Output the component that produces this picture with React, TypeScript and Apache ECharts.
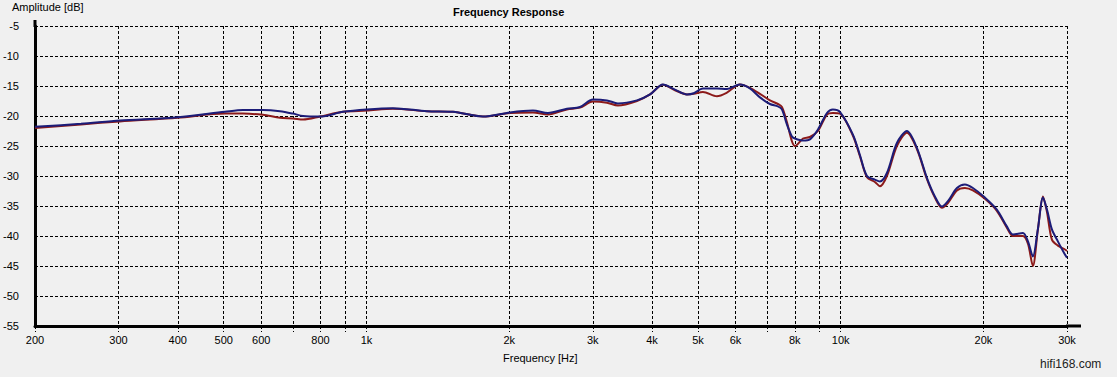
import React, { useEffect, useRef } from "react";
import * as echarts from "echarts";

const freqs = [200, 250, 302, 400, 503, 549, 605, 657, 700, 735, 798, 892, 1002, 1137, 1341, 1522, 1760, 2007, 2244, 2413, 2646, 2820, 3002, 3214, 3390, 3718, 3962, 4218, 4472, 4740, 4900, 5122, 5482, 5754, 6130, 6434, 6756, 7092, 7372, 7516, 7700, 7890, 8008, 8326, 8612, 8954, 9354, 9626, 9960, 10610, 10976, 11358, 11804, 12096, 12514, 13136, 13792, 14474, 15194, 15796, 16342, 16828, 17580, 18274, 18998, 20140, 21340, 22400, 23080, 24220, 24820, 25420, 26040, 26700, 27220, 27880, 28700, 29700, 30000];

const blueDb = [-21.8, -21.3, -20.75, -20.2, -19.3, -19.0, -19.0, -19.2, -19.6, -20.0, -20.1, -19.3, -18.9, -18.7, -19.2, -19.3, -20.1, -19.4, -19.1, -19.5, -18.8, -18.5, -17.25, -17.4, -17.9, -17.4, -16.4, -14.75, -15.6, -16.4, -16.2, -15.4, -15.4, -15.5, -14.75, -15.4, -16.9, -18.0, -18.4, -18.9, -21.4, -23.4, -23.75, -24.1, -23.9, -22.25, -19.5, -18.9, -19.3, -23.1, -26.5, -30.0, -30.6, -30.9, -29.5, -24.5, -22.5, -25.3, -30.3, -33.4, -35.1, -34.2, -32.0, -31.4, -32.0, -33.6, -35.6, -38.4, -39.75, -39.5, -40.9, -43.4, -38.9, -33.6, -35.6, -38.9, -40.9, -43.1, -43.6];

const redDb = [-22.0, -21.4, -20.9, -20.3, -19.6, -19.6, -19.8, -20.3, -20.4, -20.6, -20.1, -19.3, -19.1, -18.8, -19.2, -19.3, -20.1, -19.5, -19.4, -19.75, -18.9, -18.6, -17.6, -17.8, -18.25, -17.5, -16.4, -14.8, -15.7, -16.4, -16.3, -16.0, -16.7, -16.1, -14.75, -15.3, -16.3, -17.4, -18.0, -18.5, -21.0, -24.2, -25.0, -23.75, -23.5, -22.5, -19.75, -19.5, -19.6, -23.3, -26.7, -30.2, -31.0, -31.7, -30.0, -25.0, -22.8, -25.5, -30.5, -33.6, -35.3, -34.5, -32.4, -32.0, -32.4, -33.8, -35.8, -38.6, -40.0, -40.0, -41.3, -45.0, -39.0, -33.4, -36.0, -40.6, -41.6, -42.25, -42.5];

const gridFreqs = [200, 300, 400, 500, 600, 700, 800, 900, 1000, 2000, 3000, 4000, 5000, 6000, 7000, 8000, 9000, 10000, 20000, 30000];
const labelFreqs = [200, 300, 400, 500, 600, 800, 1000, 2000, 3000, 4000, 5000, 6000, 8000, 10000, 20000, 30000];

const FONT = "Liberation Sans";

export default function App() {
  const ref = useRef<HTMLDivElement>(null);
  useEffect(() => {
    document.body.style.margin = "0";
    const chart = echarts.init(ref.current!, null, { renderer: "svg" });
    const toPts = (vals: number[]) => freqs.map((f, i) => [Math.log10(f), vals[i]]);
    const fmt = (v: number) => {
      const f = Math.round(Math.pow(10, v));
      return f >= 1000 ? f / 1000 + "k" : String(f);
    };
    chart.setOption({
      animation: false,
      backgroundColor: "#f0f0f0",
      grid: { left: 35, top: 26, width: 1032, height: 300, containLabel: false },
      xAxis: {
        type: "value",
        min: Math.log10(200),
        max: Math.log10(30000),
        axisLine: { show: true, onZero: false, lineStyle: { color: "#000", width: 3 } },
        axisTick: {
          show: true,
          length: 6,
          customValues: gridFreqs.map((f) => Math.log10(f)),
          lineStyle: { color: "#000", width: 1, type: [3, 2] },
        },
        splitLine: { show: true, lineStyle: { color: "#000", width: 1, type: [3, 2] } },
        axisLabel: {
          customValues: labelFreqs.map((f) => Math.log10(f)),
          formatter: fmt,
          color: "#000",
          fontFamily: FONT,
          fontSize: 11,
          margin: 8,
        },
      },
      yAxis: {
        type: "value",
        min: -55,
        max: -5,
        interval: 5,
        axisLine: { show: true, lineStyle: { color: "#000", width: 3 } },
        axisTick: { show: false },
        splitLine: { show: true, lineStyle: { color: "#000", width: 1, type: [3, 2] } },
        axisLabel: { color: "#000", fontFamily: FONT, fontSize: 11, margin: 16 },
      },
      graphic: [
        { type: "line", shape: { x1: 35, y1: 20, x2: 35, y2: 27 }, style: { stroke: "#000", lineWidth: 3 } },
        { type: "line", shape: { x1: 1066, y1: 326, x2: 1081, y2: 326 }, style: { stroke: "#000", lineWidth: 3 } },
        { type: "text", left: 453, top: 6, style: { text: "Frequency Response", font: `bold 11px "${FONT}"`, fill: "#000" } },
        { type: "text", left: 12, top: 1, style: { text: "Amplitude [dB]", font: `11px "${FONT}"`, fill: "#000" } },
        { type: "text", left: 503, top: 352, style: { text: "Frequency [Hz]", font: `11px "${FONT}"`, fill: "#000" } },
        { type: "text", left: 1040, top: 358, style: { text: "hifi168.com", font: `12px "${FONT}"`, fill: "#222" } },
      ],
      series: [
        {
          type: "line",
          name: "L",
          data: toPts(redDb),
          showSymbol: false,
          smooth: 0.3,
          lineStyle: { color: "#8c1a1a", width: 2 },
          itemStyle: { color: "#8c1a1a" },
          z: 2,
        },
        {
          type: "line",
          name: "R",
          data: toPts(blueDb),
          showSymbol: false,
          smooth: 0.3,
          lineStyle: { color: "#1c1c78", width: 2 },
          itemStyle: { color: "#1c1c78" },
          z: 3,
        },
      ],
    });
    return () => chart.dispose();
  }, []);
  return <div ref={ref} style={{ width: 1117, height: 377 }} />;
}
